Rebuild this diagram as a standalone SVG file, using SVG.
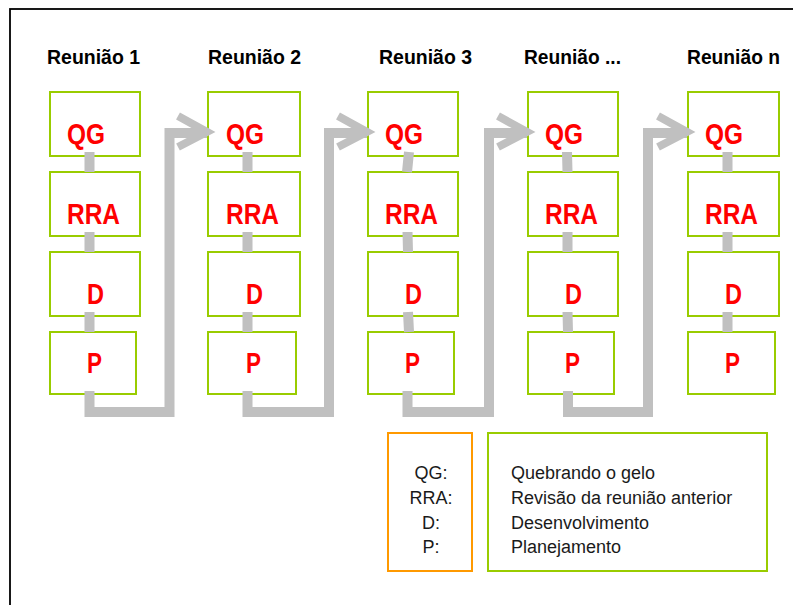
<svg xmlns="http://www.w3.org/2000/svg" width="793" height="605" viewBox="0 0 793 605">
<style>
.frame{fill:none;stroke:#000;stroke-width:1.8}
.box{fill:none;stroke:#99cc00;stroke-width:2}
.lbox{fill:none;stroke:#ff9900;stroke-width:2}
.head{font-family:"Liberation Sans",Arial,sans-serif;font-weight:bold;font-size:21px;fill:#000}
.lab{font-family:"Liberation Sans",Arial,sans-serif;font-weight:bold;font-size:30px;fill:#ff0000}
.leg{font-family:"Liberation Sans",Arial,sans-serif;font-size:18px;fill:#1a1a1a}
.con{fill:none;stroke:#c0c0c0;stroke-width:10}
.flow{fill:none;stroke:#c0c0c0;stroke-width:10;stroke-linejoin:miter}
.chev{fill:none;stroke:#c0c0c0;stroke-width:8}
</style>
<rect class="frame" x="10" y="9" width="800" height="620"/>

<g id="headers">
<text class="head" x="47" y="64" textLength="93" lengthAdjust="spacingAndGlyphs">Reunião 1</text>
<text class="head" x="208" y="64" textLength="93" lengthAdjust="spacingAndGlyphs">Reunião 2</text>
<text class="head" x="379" y="64" textLength="93" lengthAdjust="spacingAndGlyphs">Reunião 3</text>
<text class="head" x="524" y="64" textLength="97" lengthAdjust="spacingAndGlyphs">Reunião ...</text>
<text class="head" x="687" y="64" textLength="93" lengthAdjust="spacingAndGlyphs">Reunião n</text>
</g>

<g id="r1">
<g id="r1-qg"><rect class="box" x="50" y="92" width="90" height="64"/><text class="lab" x="67" y="144" textLength="38" lengthAdjust="spacingAndGlyphs">QG</text></g>
<g id="r1-rra"><rect class="box" x="50" y="172" width="90" height="64"/><text class="lab" x="67" y="224" textLength="53" lengthAdjust="spacingAndGlyphs">RRA</text></g>
<g id="r1-d"><rect class="box" x="50" y="252" width="90" height="64"/><text class="lab" x="87" y="304" textLength="17" lengthAdjust="spacingAndGlyphs">D</text></g>
<g id="r1-p"><rect class="box" x="50" y="332" width="86" height="62"/><text class="lab" x="87" y="373" textLength="15" lengthAdjust="spacingAndGlyphs">P</text></g>
</g>
<g id="r2">
<g id="r2-qg"><rect class="box" x="208" y="92" width="92" height="64"/><text class="lab" x="226" y="144" textLength="38" lengthAdjust="spacingAndGlyphs">QG</text></g>
<g id="r2-rra"><rect class="box" x="208" y="172" width="92" height="64"/><text class="lab" x="226" y="224" textLength="53" lengthAdjust="spacingAndGlyphs">RRA</text></g>
<g id="r2-d"><rect class="box" x="208" y="252" width="92" height="64"/><text class="lab" x="246" y="304" textLength="17" lengthAdjust="spacingAndGlyphs">D</text></g>
<g id="r2-p"><rect class="box" x="208" y="332" width="88" height="62"/><text class="lab" x="246" y="373" textLength="15" lengthAdjust="spacingAndGlyphs">P</text></g>
</g>
<g id="r3">
<g id="r3-qg"><rect class="box" x="368" y="92" width="90" height="64"/><text class="lab" x="385" y="144" textLength="38" lengthAdjust="spacingAndGlyphs">QG</text></g>
<g id="r3-rra"><rect class="box" x="368" y="172" width="90" height="64"/><text class="lab" x="385" y="224" textLength="53" lengthAdjust="spacingAndGlyphs">RRA</text></g>
<g id="r3-d"><rect class="box" x="368" y="252" width="90" height="64"/><text class="lab" x="405" y="304" textLength="17" lengthAdjust="spacingAndGlyphs">D</text></g>
<g id="r3-p"><rect class="box" x="368" y="332" width="86" height="62"/><text class="lab" x="405" y="373" textLength="15" lengthAdjust="spacingAndGlyphs">P</text></g>
</g>
<g id="r4">
<g id="r4-qg"><rect class="box" x="528" y="92" width="90" height="64"/><text class="lab" x="545" y="144" textLength="38" lengthAdjust="spacingAndGlyphs">QG</text></g>
<g id="r4-rra"><rect class="box" x="528" y="172" width="90" height="64"/><text class="lab" x="545" y="224" textLength="53" lengthAdjust="spacingAndGlyphs">RRA</text></g>
<g id="r4-d"><rect class="box" x="528" y="252" width="90" height="64"/><text class="lab" x="565" y="304" textLength="17" lengthAdjust="spacingAndGlyphs">D</text></g>
<g id="r4-p"><rect class="box" x="528" y="332" width="86" height="62"/><text class="lab" x="565" y="373" textLength="15" lengthAdjust="spacingAndGlyphs">P</text></g>
</g>
<g id="r5">
<g id="r5-qg"><rect class="box" x="688" y="92" width="91" height="64"/><text class="lab" x="705" y="144" textLength="38" lengthAdjust="spacingAndGlyphs">QG</text></g>
<g id="r5-rra"><rect class="box" x="688" y="172" width="91" height="64"/><text class="lab" x="705" y="224" textLength="53" lengthAdjust="spacingAndGlyphs">RRA</text></g>
<g id="r5-d"><rect class="box" x="688" y="252" width="91" height="64"/><text class="lab" x="725" y="304" textLength="17" lengthAdjust="spacingAndGlyphs">D</text></g>
<g id="r5-p"><rect class="box" x="688" y="332" width="87" height="62"/><text class="lab" x="725" y="373" textLength="15" lengthAdjust="spacingAndGlyphs">P</text></g>
</g>

<g id="connectors">
<path class="con" d="M89.5 152V172M89.5 232V252M89.5 312V332"/>
<path class="con" d="M247.5 152V172M247.5 232V252M247.5 312V332"/>
<path class="con" d="M409 152L407 172M407.5 232L408 252M408 312L409 332"/>
<path class="con" d="M567 152L567.5 172M567.5 232V252M567.5 312L568 332"/>
<path class="con" d="M727.5 152V172M727.5 232V252M727.5 312V332"/>
<path class="flow" d="M89.5 391V412H169.5V133H207"/>
<polyline class="chev" points="178,116 207,132 178,147"/>
<path class="flow" d="M247.5 391V412H329V133H367"/>
<polyline class="chev" points="338,116 367,132 338,147"/>
<path class="flow" d="M407.5 391V412H489V133H527"/>
<polyline class="chev" points="498,116 527,132 498,147"/>
<path class="flow" d="M568 391V412H648V133H687"/>
<polyline class="chev" points="658,116 687,132 658,147"/>
</g>

<g id="legend-abbr">
<rect class="lbox" x="388" y="433" width="84" height="138"/>
<text class="leg" text-anchor="middle"><tspan x="431" y="479">QG:</tspan><tspan x="431" y="504">RRA:</tspan><tspan x="431" y="529">D:</tspan><tspan x="431" y="553">P:</tspan></text>
</g>
<g id="legend-desc">
<rect class="box" x="488" y="433" width="279" height="138"/>
<text class="leg"><tspan x="511" y="479">Quebrando o gelo</tspan><tspan x="511" y="504">Revisão da reunião anterior</tspan><tspan x="511" y="529">Desenvolvimento</tspan><tspan x="511" y="553">Planejamento</tspan></text>
</g>
</svg>
